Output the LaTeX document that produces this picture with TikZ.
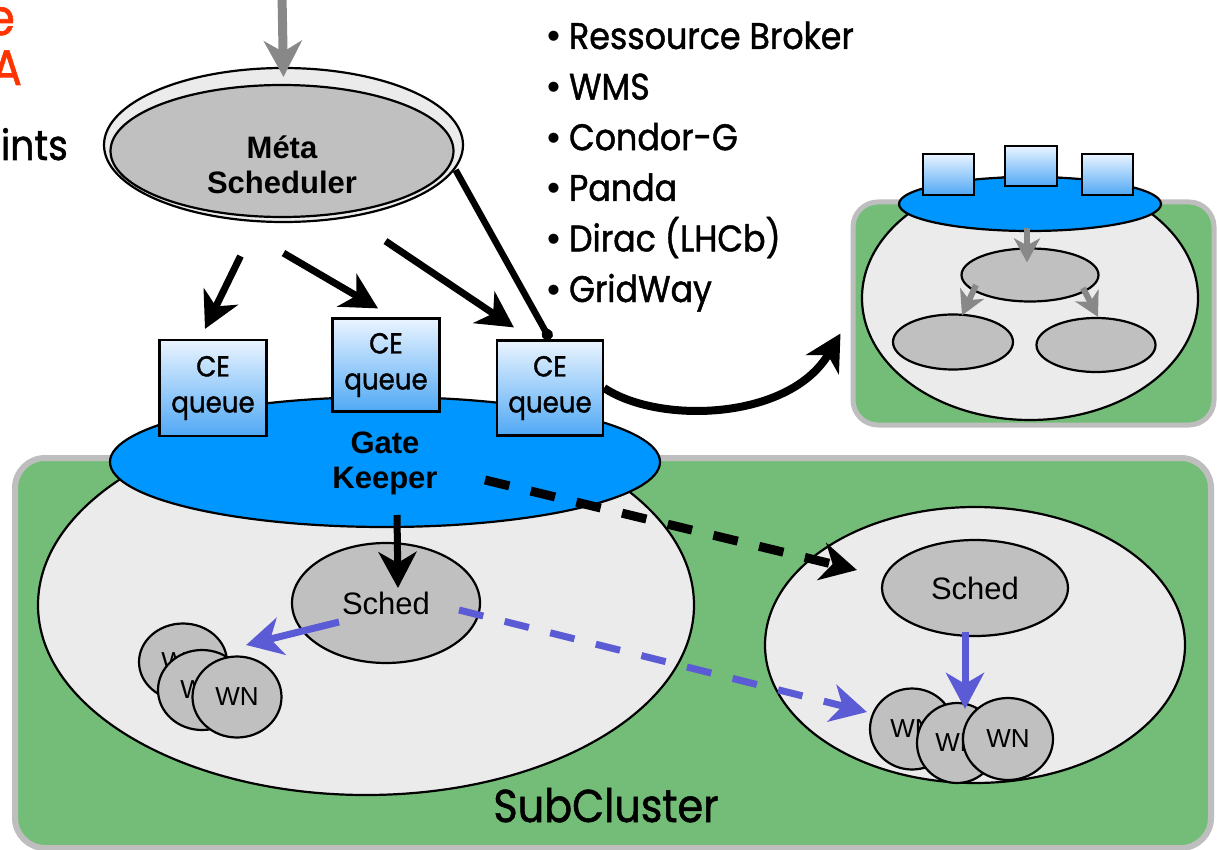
\documentclass[tikz,border=0pt]{standalone}
\usepackage{fontspec}
\setmainfont{Liberation Sans}
\newfontfamily\futura[FakeStretch=0.9,FakeBold=1.2]{Poppins}
\usetikzlibrary{shapes.geometric,arrows.meta,calc}

\definecolor{subGreen}{RGB}{116,189,120}
\definecolor{frameGray}{RGB}{190,190,190}
\definecolor{paleGray}{RGB}{235,235,235}
\definecolor{schedGray}{RGB}{192,192,192}
\definecolor{gateBlue}{RGB}{0,150,255}
\definecolor{ceTop}{RGB}{234,244,255}
\definecolor{ceBottom}{RGB}{80,168,245}
\definecolor{flowBlue}{RGB}{91,91,214}
\definecolor{flowGray}{RGB}{136,136,136}
\definecolor{titleRed}{RGB}{255,51,0}

\tikzset{every picture/.style={line width=2.2pt}}
\tikzset{
  greenbox/.style={draw=frameGray, line width=6pt, fill=subGreen, rounded corners=30pt, inner sep=0pt},
  minigreen/.style={greenbox, line width=5pt, rounded corners=25pt},
  cluster/.style={draw, ellipse, fill=paleGray, inner sep=0pt},
  gatekeeper/.style={draw, ellipse, fill=gateBlue, inner sep=0pt},
  cebox/.style={draw, top color=ceTop, bottom color=ceBottom, inner sep=0pt, align=center,
    font=\futura\fontsize{29}{36}\selectfont},
  schedshape/.style={draw, ellipse, fill=schedGray, inner sep=0pt, font=\fontsize{31}{36}\selectfont},
  wnshape/.style={schedshape, font=\fontsize{26}{30}\selectfont},
  boldlabel/.style={align=center, inner sep=0pt, font=\bfseries\fontsize{31}{35}\selectfont},
  bigtext/.style={inner sep=0pt, font=\futura\fontsize{37}{40}\selectfont},
  bigtip/.style={-{Stealth[length=36pt,width=38pt,inset=11pt]}},
  smalltip/.style={-{Stealth[length=24pt,width=26pt,inset=7pt]}},
  blackarrow/.style={bigtip, line width=7pt},
  blackdashes/.style={bigtip, line width=9pt, dash pattern=on 25pt off 22pt},
  bluearrow/.style={bigtip, draw=flowBlue, line width=7pt},
  bluedashes/.style={bluearrow, dash pattern=on 25pt off 22pt},
  grayarrow/.style={bigtip, draw=flowGray, line width=9pt},
  minigray/.style={smalltip, draw=flowGray, line width=6pt}
}

\begin{document}
\begin{tikzpicture}[x=1pt,y=1pt,yscale=-1,xscale=1]
\useasboundingbox (0,0) rectangle (1217,850);

%Shape: Rounded Rect [id:subcluster]
\node[greenbox, minimum width=1196pt, minimum height=390pt] (subcluster) at (613,653) {};
%Shape: Ellipse [id:left cluster]
\node[cluster, minimum width=656pt, minimum height=380pt] (lcluster) at (366,605) {};
%Shape: Ellipse [id:right cluster]
\node[cluster, minimum width=420pt, minimum height=276pt] (rcluster) at (975,645) {};
%Shape: Ellipse [id:gate keeper]
\node[gatekeeper, minimum width=550pt, minimum height=130pt] (gate) at (385,462) {};
% Text Node
\node[boldlabel] (gatelabel) at (385,463) {Gate\\Keeper};

%Shape: Square [id:ce queues]
\node[cebox, minimum width=107pt, minimum height=96pt] (ce1) at (213,388) {CE\\queue};
\node[cebox, minimum width=107pt, minimum height=93pt] (ce2) at (386,365) {CE\\queue};
\node[cebox, minimum width=106pt, minimum height=95pt] (ce3) at (550,388) {CE\\queue};

%Shape: Ellipse [id:meta scheduler]
\node[cluster, minimum width=359pt, minimum height=154pt] (metaout) at (283.5,145) {};
\node[schedshape, minimum width=343pt, minimum height=132pt] (meta) at (282,151) {};
% Text Node
\node[boldlabel] (metalabel) at (282,165) {Méta\\Scheduler};

%Shape: Ellipse [id:schedulers]
\node[schedshape, minimum width=188pt, minimum height=120pt] (lsched) at (386,603) {Sched};
\node[schedshape, minimum width=186pt, minimum height=96pt] (rsched) at (975,588) {Sched};

%Shape: Circle [id:worker nodes]
\node[wnshape, minimum width=88pt, minimum height=77pt] (lwn1) at (183,662) {WN};
\node[wnshape, minimum width=88pt, minimum height=80pt] (lwn2) at (202,690) {WN};
\node[wnshape, minimum width=89pt, minimum height=81pt] (lwn3) at (237,697) {WN};
\node[wnshape, minimum width=84pt, minimum height=81pt] (rwn1) at (912,729) {WN};
\node[wnshape, minimum width=80pt, minimum height=80pt] (rwn2) at (957,743) {WN};
\node[wnshape, minimum width=90pt, minimum height=82pt] (rwn3) at (1008,739) {WN};

%Straight Lines [id:submission]
\coordinate (jobin) at (282,-5);
\draw[grayarrow] (jobin) -- ($(metaout.north)+(0,10)$);
\draw[blackarrow] ($(metaout.south)+(-43,33)$) -- ($(ce1.north)+(-8,-10)$);
\draw[blackarrow] ($(metaout.south)+(0,30)$) -- ($(ce2.north)+(-8,-9)$);
\draw[blackarrow] ($(metaout.south)+(102,18)$) -- ($(ce3.north west)+(18,-12)$);
\draw[line width=6.5pt, -{Circle[length=11pt]}] ($(meta.east)+(1,19)$) -- (ce3.north);
\draw[blackarrow] ($(gate.center)+(12,53)$) -- ($(lsched.center)+(12,-15)$);
\draw[blackdashes] ($(gate.center)+(100,18)$) -- ($(rsched.west)+(-24,-18)$);
\draw[bluearrow] ($(lsched.center)+(-47,19)$) -- ($(lwn1.east)+(18,-17)$);
\draw[bluedashes] ($(lsched.center)+(73,7)$) -- ($(rwn1.west)+(-2,-17)$);
\draw[bluearrow] ($(rsched.center)+(-10,44)$) -- ($(rwn2.north)+(8,7)$);

% Text Node
\node[bigtext, font=\futura\fontsize{46}{50}\selectfont, anchor=base] (sublabel) at (606,822) {SubCluster};

%Shape: Rounded Rect [id:other site]
\node[minigreen, minimum width=361pt, minimum height=223pt] (minibox) at (1033.5,313.5) {};
\node[cluster, minimum width=336pt, minimum height=244pt] (minicluster) at (1030,298) {};
\node[gatekeeper, minimum width=262pt, minimum height=54pt] (minigate) at (1030,204) {};
\node[cebox, minimum width=51pt, minimum height=41pt] (miniq1) at (948.5,174.5) {};
\node[cebox, minimum width=52pt, minimum height=40pt] (miniq2) at (1031,166) {};
\node[cebox, minimum width=51pt, minimum height=41pt] (miniq3) at (1107.5,174.5) {};
\node[schedshape, minimum width=137pt, minimum height=53pt] (minitop) at (1030,275) {};
\node[schedshape, minimum width=120pt, minimum height=55pt] (minileft) at (953,342) {};
\node[schedshape, minimum width=119pt, minimum height=54pt] (miniright) at (1096,345) {};
\draw[minigray] ($(minigate.center)+(-3,24)$) -- ($(minitop.north)+(-3,15)$);
\draw[minigray] ($(minitop.center)+(-54,10)$) -- ($(minileft.north)+(9,2)$);
\draw[minigray] ($(minitop.center)+(53,13)$) -- ($(miniright.north)+(2,0)$);

%Curve Lines [id:to other site]
\draw[blackarrow, line width=8pt] (ce3.east) .. controls (660,425) and (790,420) .. ($(minibox.west)+(-10,20)$);

% Text Node
\foreach \entry [count=\i] in {Ressource Broker, WMS, Condor-G, Panda, Dirac (LHCb), GridWay}
  \node[bigtext, anchor=base west] (broker\i) at (546,{49+50.6*(\i-1)}) {{\rmfamily•}\hspace{9pt}\entry};
\node[bigtext, font=\futura\fontsize{42}{44}\selectfont, anchor=base east] (ints) at (69,160) {ints};
\node[bigtext, font=\futura\fontsize{50}{50}\selectfont, text=titleRed, anchor=base east] (rede) at (16,35) {e};
\node[bigtext, font=\futura\fontsize{50}{50}\selectfont, text=titleRed, anchor=base east] (reda) at (23,85) {A};

\end{tikzpicture}
\end{document}
